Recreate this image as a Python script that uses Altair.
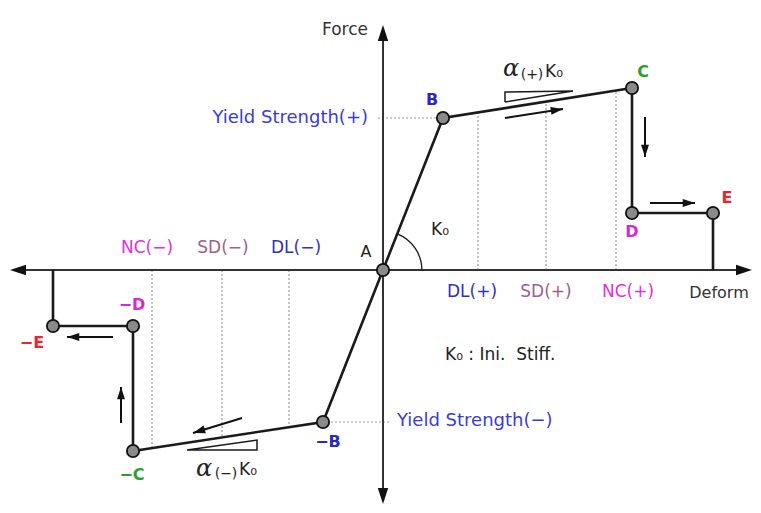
import altair as alt
import numpy as np
import pandas as pd

# ---- data (Deform, Force in arbitrary units) ----
path_x = [330, 330, 249, 249, 60, 0, -60, -250, -250, -330, -330]
path_y = [0, 57, 57, 182, 152, 0, -152, -181, -56, -56, 0]

node_names = ["A", "B", "C", "D", "E", "-B", "-C", "-D", "-E"]
node_x = [0, 60, 249, 249, 330, -60, -250, -250, -330]
node_y = [0, 152, 182, 57, 57, -152, -181, -56, -56]

limit_names = ["DL(+)", "SD(+)", "NC(+)", "DL(−)", "SD(−)", "NC(−)"]
limit_x = [95, 163, 233, -94, -161, -231]
limit_y = [158, 168, 179, -157, -167, -178]

yield_x = [-5, -60]
yield_x2 = [60, 8]
yield_y = [152, -152]

# slope triangles
tri_id = ["p", "p", "p", "p", "n", "n", "n", "n"]
tri_x = [122, 190, 122, 122, -196, -126, -126, -196]
tri_y = [168, 179, 178, 168, -180, -180, -170, -180]

# direction arrows (start -> end)
arrow_x0 = [122, 262, 267, -141, -262, -270]
arrow_y0 = [152, 153, 67, -148, -153, -67]
arrow_x1 = [180, 262, 312, -190, -262, -316]
arrow_y1 = [161, 113, 67, -163, -117, -67]

# axes
axis_x = [-365, 362, 0, 0]
axis_x2 = [0, 0, 0, 0]
axis_y = [0, 0, 237, -226]
axis_y2 = [0, 0, 0, 0]
axis_tip_x = [-373, 369, 0, 0]
axis_tip_y = [0, 0, 245, -234]
axis_tip_angle = [180, 0, 270, 90]

# labels
lab_text = ["Force", "Yield Strength(+)", "Yield Strength(−)", "A", "Deform",
            "K₀ : Ini.\u00a0\u00a0Stiff.", "K₀"]
lab_x = [-15, -15, 14, -17, 336, 62, 57]
lab_y = [240, 152, -151, 18, -23, -85, 40]
lab_align = ["right", "right", "left", "center", "center", "left", "center"]
lab_size = [17, 18, 18, 16, 16, 17, 17]
lab_color = ["#333333", "#3b3bd6", "#3b3bd6", "#222222", "#333333", "#222222", "#222222"]

lim_lab_x = [472, 546, 628, 296, 223, 147]
lim_lab_x = [v - 383 for v in lim_lab_x]
lim_lab_y = [-22, -22, -22, 22, 22, 22]
lim_lab_color = ["#3030c4", "#a0608a", "#e030e0", "#3030c4", "#a0608a", "#e030e0"]

blab_text = ["B", "C", "D", "E", "−B", "−C", "−D", "−E"]
blab_x = [49, 260, 249, 344, -55, -251, -251, -351]
blab_y = [170, 198, 38, 72, -172, -205, -35, -73]
blab_color = ["#2828c8", "#2e9e2e", "#d42ad4", "#e8262e",
              "#2828c8", "#2e9e2e", "#d42ad4", "#e8262e"]

alpha_text = ["α", "α"]
alpha_x = [128, -179]
alpha_y = [201, -199]
sub_text = ["(+)", "(−)"]
sub_x = [149, -157]
sub_y = [195, -204]
k_text = ["K₀", "K₀"]
k_x = [171, -135]
k_y = [198, -200]

# ---- chart ----
xs = alt.Scale(domain=[-375, 370], nice=False, zero=False)
ys = alt.Scale(domain=[-235, 262], nice=False, zero=False)
X = lambda f: alt.X(f, type="quantitative", scale=xs, axis=None)
Y = lambda f: alt.Y(f, type="quantitative", scale=ys, axis=None)

HEAD = "M0,0 L-2,-0.65 L-2,0.65 Z"
FONT = "DejaVu Sans"

axes_df = pd.DataFrame({"x": axis_x, "y": axis_y, "x2": axis_x2, "y2": axis_y2})
axes = alt.Chart(axes_df).mark_rule(color="#333333", strokeWidth=2).encode(
    x=X("x"), x2="x2", y=Y("y"), y2="y2")
axes_tip_df = pd.DataFrame({"x": axis_tip_x, "y": axis_tip_y, "a": axis_tip_angle})
axes_tips = alt.Chart(axes_tip_df).mark_point(
    shape=HEAD, filled=True, color="#111111", opacity=1, size=256, clip=False
).encode(x=X("x"), y=Y("y"), angle=alt.Angle("a:Q", scale=None))

lim_df = pd.DataFrame({"x": limit_x, "y": [0] * 6, "y2": limit_y, "name": limit_names})
limits = alt.Chart(lim_df).mark_rule(color="#9a9a9a", strokeWidth=1.2, strokeDash=[2, 2]).encode(
    x=X("x"), y=Y("y"), y2="y2")
yl_df = pd.DataFrame({"x": yield_x, "x2": yield_x2, "y": yield_y})
yl = alt.Chart(yl_df).mark_rule(color="#9a9a9a", strokeWidth=1.2, strokeDash=[2, 2]).encode(
    x=X("x"), x2="x2", y=Y("y"))

bb_df = pd.DataFrame({"x": path_x, "y": path_y, "o": list(range(len(path_x)))})
backbone = alt.Chart(bb_df).mark_line(color="#1a1a1a", strokeWidth=2.6).encode(
    x=X("x"), y=Y("y"), order="o:Q")

tri_df = pd.DataFrame({"x": tri_x, "y": tri_y, "id": tri_id, "o": list(range(len(tri_x)))})
tris = alt.Chart(tri_df).mark_line(color="#1a1a1a", strokeWidth=1.5).encode(
    x=X("x"), y=Y("y"), detail="id:N", order="o:Q")

arc_df = pd.DataFrame({"x": [node_x[0]], "y": [node_y[0]]})
arc = alt.Chart(arc_df).mark_arc(
    theta=float(np.arctan2(node_x[1], node_y[1])), theta2=float(np.pi / 2),
    radius=39.5, radius2=38.2, color="#1a1a1a"
).encode(x=X("x"), y=Y("y"))

ang = (np.degrees(np.arctan2(-(np.array(arrow_y1) - np.array(arrow_y0)),
                             np.array(arrow_x1) - np.array(arrow_x0))) + 360) % 360
arr_df = pd.DataFrame({"x": arrow_x0, "y": arrow_y0, "x2": arrow_x1, "y2": arrow_y1, "a": ang})
arr_lines = alt.Chart(arr_df).mark_rule(color="#111111", strokeWidth=2).encode(
    x=X("x"), y=Y("y"), x2="x2", y2="y2")
arr_heads = alt.Chart(arr_df).mark_point(
    shape=HEAD, filled=True, color="#111111", opacity=1, size=150
).encode(x=X("x2"), y=Y("y2"), angle=alt.Angle("a:Q", scale=None))

node_df = pd.DataFrame({"x": node_x, "y": node_y, "name": node_names})
nodes = alt.Chart(node_df).mark_point(
    shape="circle", filled=True, fill="#8a8a8a", stroke="#111111", strokeWidth=1.8,
    opacity=1, size=150
).encode(x=X("x"), y=Y("y"))

lab_df = pd.DataFrame({"x": lab_x, "y": lab_y, "t": lab_text, "al": lab_align,
                       "c": lab_color, "s": lab_size})
labs = []
for al in ["left", "center", "right"]:
    sub = lab_df[lab_df["al"] == al]
    labs.append(alt.Chart(sub).mark_text(font=FONT, align=al, baseline="middle").encode(
        x=X("x"), y=Y("y"), text="t:N", color=alt.Color("c:N", scale=None),
        size=alt.Size("s:Q", scale=None)))

ll_df = pd.DataFrame({"x": lim_lab_x, "y": lim_lab_y, "t": limit_names, "c": lim_lab_color})
lim_labs = alt.Chart(ll_df).mark_text(font=FONT, fontSize=17, baseline="middle").encode(
    x=X("x"), y=Y("y"), text="t:N", color=alt.Color("c:N", scale=None))

blab_df = pd.DataFrame({"x": blab_x, "y": blab_y, "t": blab_text, "c": blab_color})
blabs = alt.Chart(blab_df).mark_text(font=FONT, fontSize=16, fontWeight="bold", baseline="middle").encode(
    x=X("x"), y=Y("y"), text="t:N", color=alt.Color("c:N", scale=None))

al_df = pd.DataFrame({"x": alpha_x, "y": alpha_y, "t": alpha_text})
alphas = alt.Chart(al_df).mark_text(font="DejaVu Serif", fontStyle="italic", fontSize=24,
                                    baseline="middle", color="#222222").encode(
    x=X("x"), y=Y("y"), text="t:N")
sb_df = pd.DataFrame({"x": sub_x, "y": sub_y, "t": sub_text})
subs = alt.Chart(sb_df).mark_text(font=FONT, fontSize=14, baseline="middle", color="#222222").encode(
    x=X("x"), y=Y("y"), text="t:N")
k_df = pd.DataFrame({"x": k_x, "y": k_y, "t": k_text})
ks = alt.Chart(k_df).mark_text(font=FONT, fontSize=17, baseline="middle", color="#222222").encode(
    x=X("x"), y=Y("y"), text="t:N")

chart = alt.layer(
    limits, yl, axes, axes_tips, tris, arc, backbone, arr_lines, arr_heads, nodes,
    *labs, lim_labs, blabs, alphas, subs, ks
).properties(
    width=745, height=497, padding=0, autosize=alt.AutoSizeParams(type="none"),
    background="white"
).configure_view(stroke=None)

chart.save("out.html", embed_options={"renderer": "svg", "actions": False})
